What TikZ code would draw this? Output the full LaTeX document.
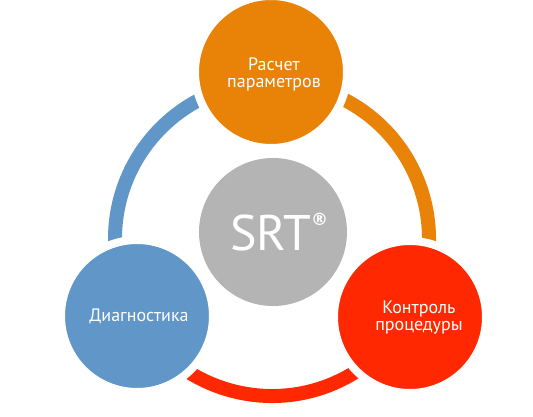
\documentclass[tikz,border=0pt]{standalone}
\usepackage{fontspec}
\setmainfont{PT Sans}
\newfontfamily\regfont{DejaVu Sans}
\definecolor{srtorange}{RGB}{233,131,7}
\definecolor{srtred}{RGB}{255,40,0}
\definecolor{srtblue}{RGB}{97,150,200}
\definecolor{srtgray}{RGB}{180,180,180}
\begin{document}
\begin{tikzpicture}[x=1pt,y=1pt]
    \tikzstyle{stage}=[circle,draw=white,line width=8pt,minimum size=152pt,inner sep=0pt]
    \tikzstyle{caption}=[text=white,align=center,font=\fontsize{18}{17}\selectfont]
    \useasboundingbox (0,0) rectangle (533,416);
    \coordinate (C) at (272,177);

    \foreach \col/\from/\to in {srtblue/90/210, srtred/210/330, srtorange/-30/90}
        \draw[\col,line width=14pt] (C) ++(\from:157) arc (\from:\to:157);

    \node[circle,fill=srtgray,minimum size=148pt,inner sep=0pt] (srt) at (273,184) {};
    \node[stage,fill=srtorange] (calc) at (271,344) {};
    \node[stage,fill=srtblue] (diag) at (137,100) {};
    \node[stage,fill=srtred] (ctrl) at (410,99) {};

    \node[text=white,anchor=base,font=\fontsize{50}{50}\selectfont] (srt-t) at (279,166)
        {SRT\raisebox{25pt}{\regfont\bfseries\fontsize{17}{17}\selectfont ®}};
    \node[caption] (calc-t) at ([xshift=3pt,yshift=-2pt]calc) {Расчет\\параметров};
    \node[caption] (diag-t) at ([xshift=2pt]diag) {Диагностика};
    \node[caption] (ctrl-t) at ([xshift=9pt,yshift=-1pt]ctrl) {Контроль\\процедуры};
\end{tikzpicture}
\end{document}
